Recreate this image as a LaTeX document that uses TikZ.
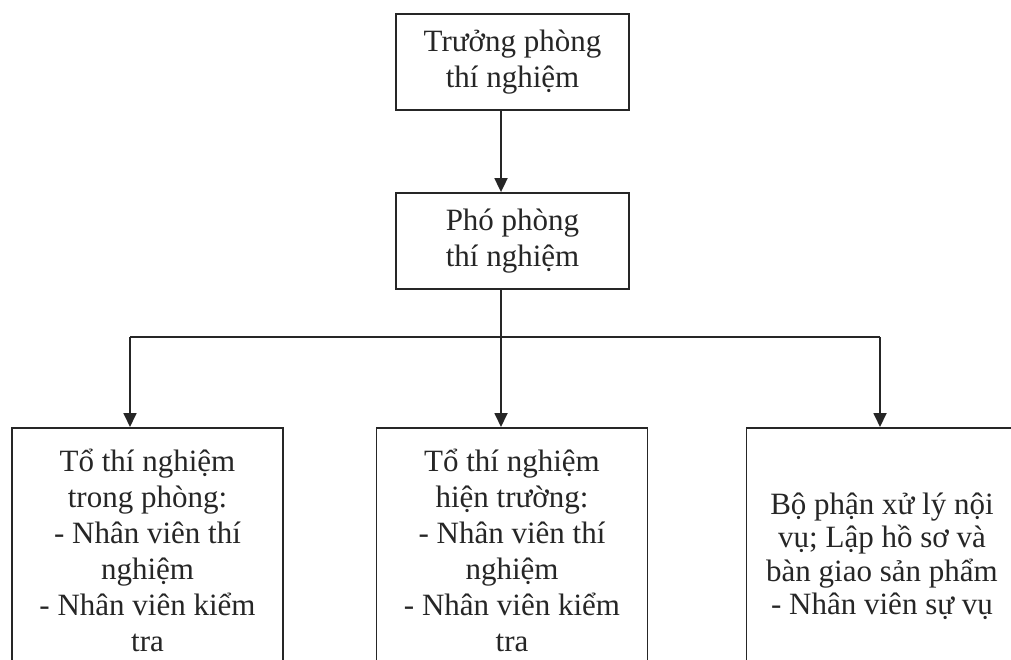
\documentclass[tikz,border=0pt]{standalone}
\usepackage{fontspec}
\setmainfont{Liberation Serif}
\usetikzlibrary{arrows.meta}
\newcommand{\boxtext}[4]{\begin{minipage}[t][#1][t]{271pt}\centering\fontsize{31}{#2}\selectfont\vspace*{#3}#4\par\end{minipage}}
\begin{document}
\begin{tikzpicture}[x=1pt,y=-1pt,
  box/.style={draw=black!85, line width=1.8pt, rectangle, inner sep=0pt,
    font=\fontsize{31}{36}\selectfont, align=center, text=black!85},
  lowbox/.style={box, anchor=north, minimum width=271pt},
  arr/.style={draw=black!85, line width=1.8pt, -{Triangle[width=13pt,length=14pt]}},
  ln/.style={draw=black!85, line width=1.8pt}]
\useasboundingbox (0,0) rectangle (1011,660);
\fill[white] (0,0) rectangle (1011,660);
\clip (0,0) rectangle (1011,660);
\node[box, minimum width=233pt, minimum height=96pt] (truong) at (512.5,62) {\raisebox{-3pt}{\begin{tabular}{@{}c@{}}Trưởng phòng\\[0pt]thí nghiệm\end{tabular}}};
\node[box, minimum width=233pt, minimum height=96pt] (pho) at (512.5,241) {\raisebox{-2pt}{\begin{tabular}{@{}c@{}}Phó phòng\\[0pt]thí nghiệm\end{tabular}}};
\node[lowbox] (tl) at (147.5,427) {\boxtext{260pt}{36}{21pt}{Tổ thí nghiệm\\trong phòng:\\- Nhân viên thí\\nghiệm\\- Nhân viên kiểm\\tra}};
\node[lowbox] (tm) at (512,427) {\boxtext{260pt}{36}{21pt}{Tổ thí nghiệm\\hiện trường:\\- Nhân viên thí\\nghiệm\\- Nhân viên kiểm\\tra}};
\node[lowbox, minimum width=262pt] (tr) at (882,427) {\boxtext{260pt}{33.5}{65pt}{Bộ phận xử lý nội\\vụ; Lập hồ sơ và\\bàn giao sản phẩm\\- Nhân viên sự vụ}};
\coordinate (jc) at (501,337);
\coordinate (jl) at (130,337);
\coordinate (jr) at (880,337);
\draw[arr] (truong.south -| jc) -- (pho.north -| jc);
\draw[ln] (pho.south -| jc) -- (jc);
\draw[ln] (jl) -- (jr);
\draw[arr] (jl) -- (jl |- tl.north);
\draw[arr] (jc) -- (jc |- tm.north);
\draw[arr] (jr) -- (jr |- tr.north);
\end{tikzpicture}
\end{document}
